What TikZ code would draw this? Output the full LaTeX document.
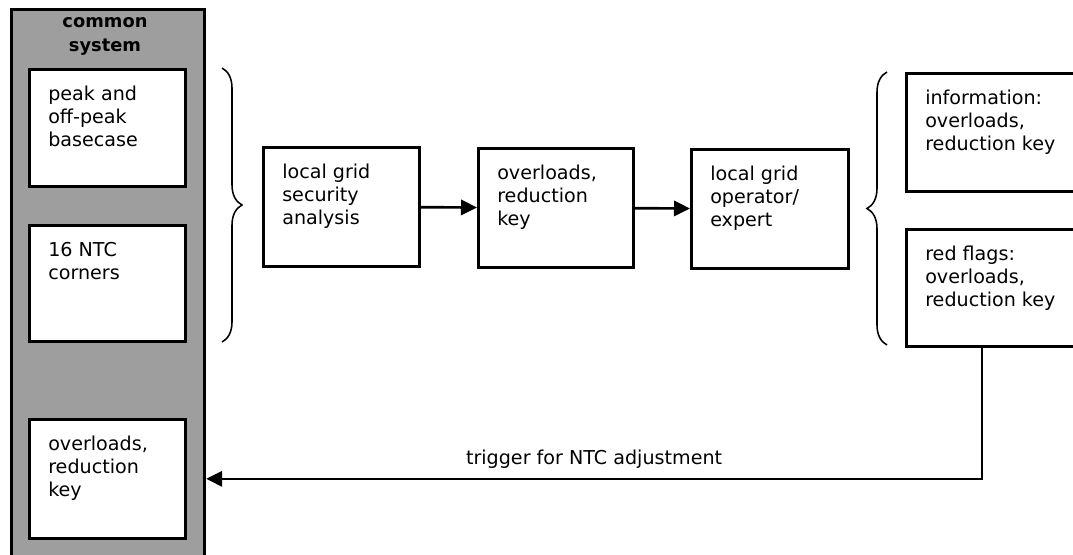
\documentclass[tikz,border=0pt]{standalone}
\usepackage{fontspec}
\setmainfont{DejaVu Sans}
\usetikzlibrary{arrows.meta, positioning, calc, decorations.pathreplacing}

\begin{document}
\begin{tikzpicture}[
    x=0.025cm, y=-0.025cm,
    box/.style={draw, line width=1.9pt, fill=white, minimum width=3.9cm, minimum height=2.95cm, anchor=north west, inner sep=0pt},
    txt/.style={anchor=north west, inner sep=0pt, align=left, font=\fontsize{13.6}{16.3}\selectfont},
    arr/.style={-{Triangle[length=0.4cm, width=0.38cm]}, line width=1.9pt},
    brc/.style={decorate, decoration={brace, amplitude=0.5cm}, line width=1.1pt}
  ]
  \useasboundingbox (0,0) rectangle (1073,554);
  \clip (0,0) rectangle (1073,554);
  \node[draw, line width=2.2pt, fill=black!38, minimum width=4.825cm, minimum height=13.7cm, anchor=north west, inner sep=0pt] (col) at (10,8) {};
  \node[font=\bfseries\fontsize{12.7}{17}\selectfont, align=center] (hdr) at (105,36) {common\\system};
  \node[box, minimum height=2.925cm] (base) at (28,68) {};
  \node[box, minimum height=2.9cm] (ntc) at (28,224) {};
  \node[box, minimum height=2.975cm] (key) at (28,418) {};
  \node[box, minimum height=2.975cm] (sec) at (262,146) {};
  \node[box, minimum width=3.875cm, minimum height=2.975cm] (ovl) at (477,147) {};
  \node[box, minimum width=3.925cm, minimum height=2.975cm] (oper) at (690,148) {};
  \node[box, minimum width=5cm, minimum height=2.95cm] (info) at (905,72) {};
  \node[box, minimum width=5cm, minimum height=2.925cm] (flag) at (905,228) {};
  \node[txt] (base-t) at ([shift={(20,18)}]base.north west) {peak and\\off-peak\\basecase};
  \node[txt] (ntc-t) at ([shift={(20,18)}]ntc.north west) {16 NTC\\corners};
  \node[txt] (key-t) at ([shift={(20,18)}]key.north west) {overloads,\\reduction\\key};
  \node[txt] (sec-t) at ([shift={(20,18)}]sec.north west) {local grid\\security\\analysis};
  \node[txt] (ovl-t) at ([shift={(20,18)}]ovl.north west) {overloads,\\reduction\\key};
  \node[txt] (oper-t) at ([shift={(20,18)}]oper.north west) {local grid\\operator/\\expert};
  \node[txt] (info-t) at ([shift={(20,18)}]info.north west) {information:\\overloads,\\reduction key};
  \node[txt] (flag-t) at ([shift={(20,18)}]flag.north west) {red flags:\\overloads,\\reduction key};
  \draw[brc] (222,68) -- (222,342);
  \draw[brc] (887,345) -- (887,72);
  \draw[arr] (sec) -- (ovl);
  \draw[arr] (ovl) -- (oper);
  \coordinate (trig) at ([xshift=1.925cm]flag.south west);
  \draw[arr] (trig) |- (col.east |- key.east)
    node[pos=0.75, above=3pt, font=\fontsize{13.6}{16.3}\selectfont] (trig-t) {trigger for NTC adjustment};
\end{tikzpicture}
\end{document}
